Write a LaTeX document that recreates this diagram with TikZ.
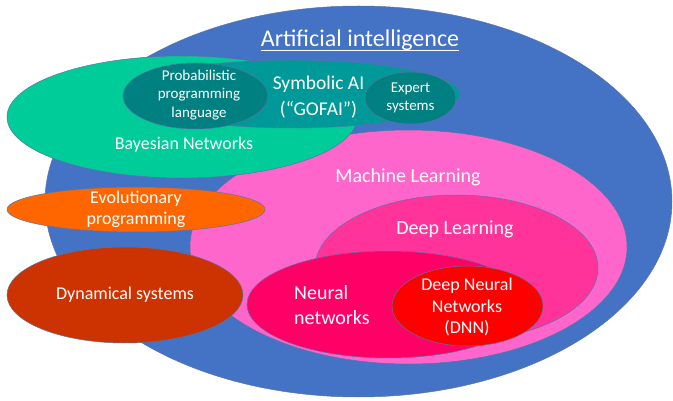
\documentclass[tikz,border=0pt]{standalone}
\usepackage{fontspec}
\setmainfont{Carlito}
\usetikzlibrary{calc}
\definecolor{aiblue}{HTML}{4472C4}
\definecolor{edgeblue}{HTML}{2F528F}
\definecolor{bayesgreen}{HTML}{00CC99}
\definecolor{symbteal}{HTML}{009999}
\definecolor{darkteal}{HTML}{008080}
\definecolor{mlpink}{HTML}{FF66CC}
\definecolor{dlpink}{HTML}{FF3399}
\definecolor{nnpink}{HTML}{FF0066}
\definecolor{dnnred}{HTML}{FF0000}
\definecolor{evoorange}{HTML}{FF6600}
\definecolor{dynbrown}{HTML}{CC3300}
\tikzset{
  blob/.style={draw=edgeblue!80, line width=0.5pt},
  lbl/.style={text=white, inner sep=0pt, align=center},
}
\begin{document}
\begin{tikzpicture}[x=1pt,y=-1pt]
\useasboundingbox (0,0) rectangle (673,401);
% outer AI ellipse
\fill[aiblue, blob] (358.5,201.5) ellipse [x radius=313.5pt, y radius=195.5pt];
% machine learning family
\fill[mlpink, blob] (408.5,247) ellipse [x radius=218.5pt, y radius=117pt];
\fill[dlpink, blob] (456.5,268) ellipse [x radius=141.5pt, y radius=73pt];
\fill[nnpink, blob] (388,304.5) ellipse [x radius=141pt, y radius=53.5pt];
\fill[dnnred, blob] (467.5,306) ellipse [x radius=75.5pt, y radius=40pt];
% symbolic family
\fill[bayesgreen, blob] (182,117) ellipse [x radius=175pt, y radius=61pt];
\fill[symbteal, blob] (292,94) ellipse [x radius=168pt, y radius=34pt];
\fill[darkteal, blob] (195.5,96) ellipse [x radius=72.5pt, y radius=33pt];
\fill[darkteal, blob] (410.5,98) ellipse [x radius=45.5pt, y radius=26pt];
% others
\fill[evoorange, blob] (136,209.5) ellipse [x radius=129pt, y radius=22.5pt];
\fill[dynbrown, blob] (125,295) ellipse [x radius=118pt, y radius=48pt];
% labels
\node[lbl, font=\fontsize{24}{28}\selectfont] (ai) at (360,40) {Artificial intelligence};
\draw[white, line width=1pt] ($(ai.base west)+(0,4)$) -- ($(ai.base east)+(0,4)$);
\node[lbl, font=\fontsize{18}{21}\selectfont] (bayes) at (184,145) {Bayesian Networks};
\node[lbl, font=\fontsize{19.5}{26}\selectfont] (symb) at (318.5,97) {Symbolic AI\\(“GOFAI”)};
\node[lbl, font=\fontsize{15}{18.5}\selectfont] (prob) at (199,95) {Probabilistic\\programming\\language};
\node[lbl, font=\fontsize{15}{18}\selectfont] (expert) at (410.5,98) {Expert\\systems};
\node[lbl, font=\fontsize{20}{24}\selectfont] (ml) at (408,177) {Machine Learning};
\node[lbl, font=\fontsize{20}{24}\selectfont] (dl) at (455,229) {Deep Learning};
\node[lbl, align=left, anchor=west, font=\fontsize{20}{25}\selectfont] (nn) at (294,305.5) {Neural\\networks};
\node[lbl, font=\fontsize{18}{21.5}\selectfont] (dnn) at (467,307) {Deep Neural\\Networks\\(DNN)};
\node[lbl, font=\fontsize{18}{21}\selectfont] (evo) at (136,209.5) {Evolutionary\\programming};
\node[lbl, font=\fontsize{18}{21}\selectfont] (dyn) at (125,295) {Dynamical systems};
\end{tikzpicture}
\end{document}
